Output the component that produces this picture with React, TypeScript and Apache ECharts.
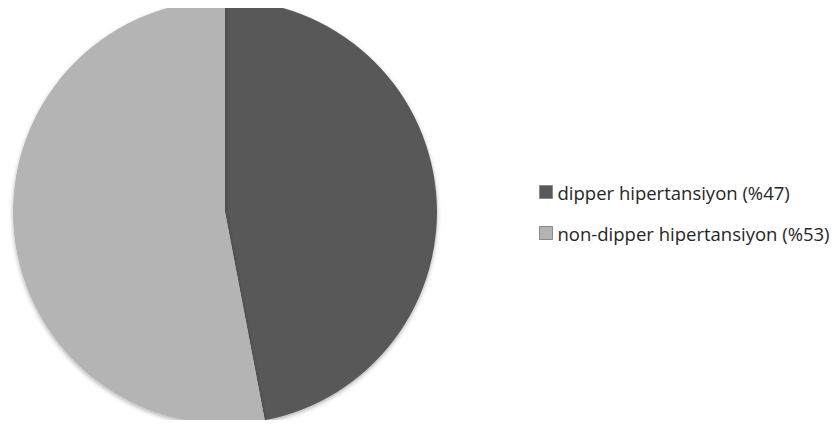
import React, { useEffect, useRef } from "react";
import * as echarts from "echarts";

const categories = ["dipper hipertansiyon (%47)", "non-dipper hipertansiyon (%53)"];
const values = [47, 53];
const colors = ["#595959", "#b4b4b4"];

export default function App() {
  const ref = useRef<HTMLDivElement>(null);

  useEffect(() => {
    if (!ref.current) return;
    const chart = echarts.init(ref.current, null, { renderer: "svg" });
    chart.setOption({
      animation: false,
      backgroundColor: "#ffffff",
      legend: {
        orient: "vertical",
        left: 531,
        top: 174,
        padding: 0,
        itemGap: 21,
        itemWidth: 13,
        itemHeight: 13,
        icon: "rect",
        itemStyle: { borderColor: "#8a8a8a", borderWidth: 1 },
        textStyle: {
          fontFamily: "Open Sans",
          fontSize: 18.5,
          lineHeight: 20,
          color: "#262626",
        },
        data: categories,
      },
      series: [
        {
          type: "pie",
          center: [217, 204],
          radius: 212,
          startAngle: 90,
          clockwise: true,
          label: { show: false },
          labelLine: { show: false },
          emphasis: { disabled: true },
          itemStyle: {
            borderWidth: 0,
            shadowBlur: 4,
            shadowOffsetY: 2,
            shadowColor: "rgba(0,0,0,0.3)",
          },
          data: categories.map((name, i) => ({
            name,
            value: values[i],
            itemStyle: { color: colors[i] },
          })),
        },
      ],
    });
    return () => chart.dispose();
  }, []);

  return <div ref={ref} style={{ width: 831, height: 412 }} />;
}
